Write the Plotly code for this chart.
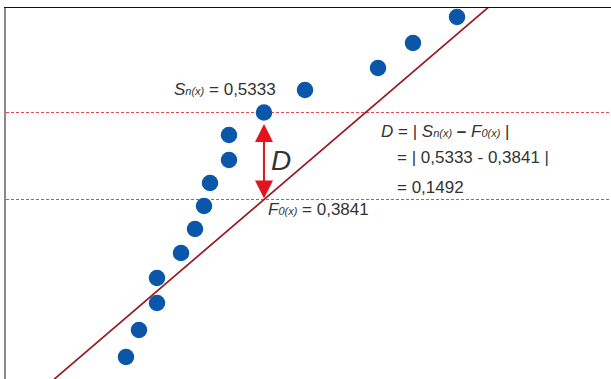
import plotly.graph_objects as go

# Empirical sample points (x, Sn-like values)
pts_x = [1.983, 2.198, 2.496, 2.496, 2.893, 3.124, 3.273, 3.372, 3.686, 3.686,
         4.264, 4.942, 6.149, 6.727, 7.455]
pts_y = [0.1140, 0.1603, 0.2066, 0.2495, 0.2924, 0.3335, 0.3730, 0.4124, 0.4518, 0.4947,
         0.5333, 0.5719, 0.6096, 0.6525, 0.6971]

# Theoretical CDF F0(x)
f0_x = [0.70, 4.264, 8.00]
f0_y = [0.0674, 0.3841, 0.7161]

sn_val = 0.5333
f0_val = 0.3841
d_x = 4.264

fig = go.Figure()
fig.add_trace(go.Scatter(x=f0_x, y=f0_y, mode="lines",
                         line=dict(color="#971a20", width=1.7), hoverinfo="skip"))
fig.add_trace(go.Scatter(x=pts_x, y=pts_y, mode="markers",
                         marker=dict(color="#0a56a8", size=16.5), hoverinfo="skip"))

for yv in [sn_val, f0_val]:
    fig.add_shape(type="line", xref="paper", x0=0, x1=1, yref="y", y0=yv, y1=yv,
                  line=dict(color="#ec4655", width=1.2, dash="3px,2px"), layer="below")

# Double-headed arrow D
fig.add_annotation(x=d_x, y=f0_val, ax=d_x, ay=sn_val, xref="x", yref="y",
                   axref="x", ayref="y", text="", showarrow=True,
                   arrowhead=2, startarrowhead=2, arrowside="end+start",
                   arrowsize=1.8, startarrowsize=1.8, arrowwidth=2,
                   arrowcolor="#e3141e", standoff=1, startstandoff=10)

fc = "#333333"
ff = "Arial, Liberation Sans, sans-serif"
sm = "<span style='font-size:11px'>"
fs = 17

fig.add_annotation(x=2.745, y=0.5719, xref="x", yref="y", xanchor="left", yanchor="middle",
                   text=f"<i>S{sm}n(x)</span></i> = 0,5333", showarrow=False,
                   font=dict(size=fs, color=fc, family=ff))
fig.add_annotation(x=4.545, y=0.4518, xref="x", yref="y", xanchor="center", yanchor="middle",
                   text="<i>D</i>", showarrow=False,
                   font=dict(size=28, color=fc, family=ff))
fig.add_annotation(x=4.300, y=0.3678, xref="x", yref="y", xanchor="left", yanchor="middle",
                   text=f"<i>F{sm}0(x)</span></i> = 0,3841", showarrow=False,
                   font=dict(size=fs, color=fc, family=ff))
fig.add_annotation(x=6.165, y=0.4999, xref="x", yref="y", xanchor="left", yanchor="middle",
                   text=f"<i>D</i> = | <i>S{sm}n(x)</span></i> <b>–</b> <i>F{sm}0(x)</span></i> |",
                   showarrow=False, font=dict(size=fs, color=fc, family=ff))
fig.add_annotation(x=6.430, y=0.4553, xref="x", yref="y", xanchor="left", yanchor="middle",
                   text="= | 0,5333 - 0,3841 |", showarrow=False,
                   font=dict(size=fs, color=fc, family=ff))
fig.add_annotation(x=6.430, y=0.4055, xref="x", yref="y", xanchor="left", yanchor="middle",
                   text="= 0,1492", showarrow=False,
                   font=dict(size=fs, color=fc, family=ff))

fig.update_layout(
    width=611, height=379,
    margin=dict(l=6, r=0, t=8, b=0),
    paper_bgcolor="white", plot_bgcolor="white",
    showlegend=False,
    xaxis=dict(range=[0, 10], side="top", showline=True, linecolor="#111111", linewidth=1.5,
               showgrid=False, zeroline=False, showticklabels=False, ticks=""),
    yaxis=dict(range=[0.0763, 0.7125], showline=True, linecolor="#8a8a8a", linewidth=2,
               showgrid=False, zeroline=False, showticklabels=False, ticks=""),
)

fig.write_html("out.html", config={"staticPlot": True},
               post_script="document.body.style.margin='0px';")
